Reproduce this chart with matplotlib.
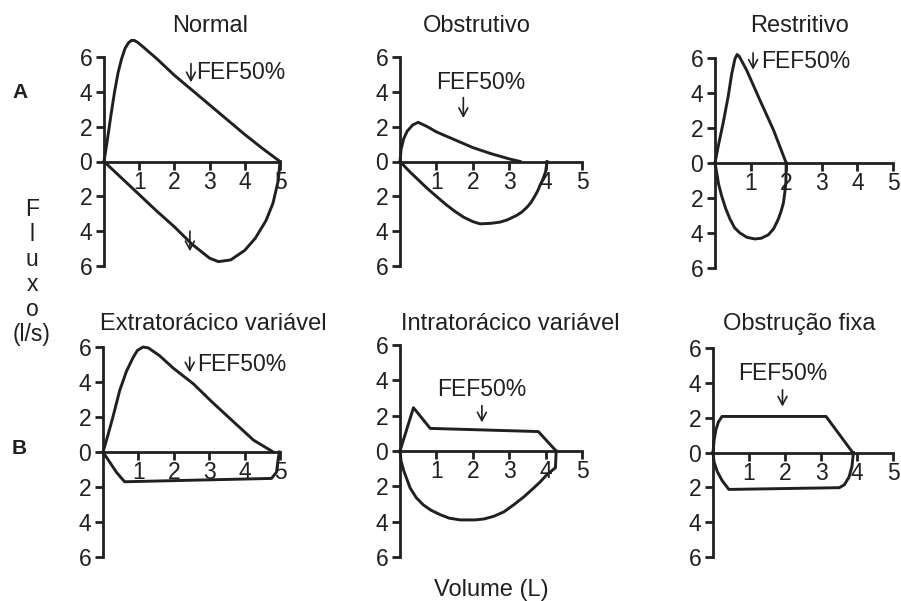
import matplotlib
matplotlib.use("Agg")
import matplotlib.pyplot as plt

plt.rcParams['font.family'] = ['Liberation Sans', 'DejaVu Sans']
INK = '#231f20'

# Flow-volume loops: expiratory flow (above axis) and inspiratory flow magnitude (drawn below)
titles = ['Normal', 'Obstrutivo', 'Restritivo',
          'Extratorácico variável', 'Intratorácico variável', 'Obstrução fixa']

exp_vol = [
    [0, 0.1, 0.2, 0.3, 0.4, 0.5, 0.6, 0.7, 0.78, 0.86, 0.95, 1.1, 1.5, 2, 2.5, 3, 3.5, 4, 4.5, 5],
    [0, 0.03, 0.1, 0.2, 0.35, 0.5, 0.75, 1, 1.5, 2, 2.5, 3, 3.3],
    [0, 0.09, 0.23, 0.37, 0.47, 0.56, 0.62, 0.68, 0.89, 1.26, 1.64, 2.0],
    [0, 0.14, 0.28, 0.47, 0.66, 0.85, 0.97, 1.13, 1.28, 1.6, 1.98, 2.55, 3.11, 3.68, 4.25, 4.81],
    [0, 0.37, 0.83, 3.8, 4.29],
    [0, 0.03, 0.08, 0.15, 0.25, 3.14, 3.88],
]
exp_flow = [
    [0, 1.3, 2.7, 4.0, 5.1, 5.9, 6.5, 6.83, 6.95, 6.95, 6.85, 6.6, 5.9, 4.95, 4.1, 3.25, 2.4, 1.55, 0.75, 0],
    [0, 0.7, 1.3, 1.75, 2.1, 2.25, 2.0, 1.7, 1.25, 0.8, 0.45, 0.15, 0],
    [0, 0.95, 2.3, 3.8, 5.1, 5.95, 6.2, 6.1, 5.3, 3.6, 1.9, 0],
    [0, 0.97, 2.0, 3.5, 4.6, 5.4, 5.8, 6.0, 5.95, 5.5, 4.8, 3.9, 2.8, 1.74, 0.68, 0],
    [0, 2.45, 1.28, 1.1, 0],
    [0, 0.7, 1.3, 1.75, 2.07, 2.07, 0],
]
insp_vol = [
    [0, 0.5, 1, 1.5, 2, 2.5, 3, 3.25, 3.6, 4, 4.3, 4.6, 4.8, 4.95, 5.0],
    [0, 0.25, 0.5, 0.75, 1, 1.25, 1.5, 1.75, 2, 2.2, 2.5, 2.75, 2.95, 3.2, 3.35, 3.5, 3.6, 3.7,
     3.78, 3.85, 3.93, 4.0, 4.04],
    [0, 0.05, 0.1, 0.19, 0.3, 0.42, 0.55, 0.7, 0.9, 1.12, 1.3, 1.5, 1.65, 1.78, 1.85, 1.92, 1.96,
     1.99, 2.0],
    [0, 0.19, 0.38, 0.61, 4.76, 4.9, 4.95, 4.98],
    [0, 0.03, 0.1, 0.28, 0.45, 0.64, 0.85, 1.1, 1.35, 1.65, 2.06, 2.3, 2.57, 2.85, 3.12, 3.4, 3.67,
     3.85, 4.04, 4.27, 4.29],
    [0, 0.03, 0.12, 0.25, 0.44, 3.51, 3.65, 3.78, 3.86, 3.9],
]
insp_flow = [
    [0, 0.95, 1.9, 2.85, 3.75, 4.75, 5.55, 5.75, 5.65, 5.1, 4.4, 3.4, 2.4, 1.1, 0],
    [0, 0.55, 1.05, 1.55, 2.0, 2.45, 2.85, 3.2, 3.45, 3.58, 3.55, 3.48, 3.35, 3.1, 2.9, 2.6, 2.35,
     2.0, 1.7, 1.35, 1.0, 0.58, 0],
    [0, 0.57, 1.2, 1.9, 2.6, 3.2, 3.7, 4.0, 4.25, 4.34, 4.3, 4.1, 3.75, 3.2, 2.8, 2.3, 1.7, 1.14, 0],
    [0, 0.58, 1.16, 1.7, 1.51, 1.16, 0.39, 0],
    [0, 0.57, 1.1, 2.1, 2.65, 3.05, 3.35, 3.6, 3.8, 3.9, 3.9, 3.85, 3.7, 3.45, 3.05, 2.6, 2.1,
     1.75, 1.33, 0.95, 0],
    [0, 0.55, 1.1, 1.6, 2.12, 2.02, 1.85, 1.4, 0.8, 0],
]

# FEF50% labels: (text, x, y, ha)
fef_labels = [
    [('FEF50%', 2.63, 5.1, 'left')],
    [('FEF50%', 2.22, 4.55, 'center')],
    [('FEF50%', 1.3, 5.8, 'left')],
    [('FEF50%', 2.65, 5.0, 'left')],
    [('FEF50%', 2.25, 3.5, 'center')],
    [('FEF50%', 1.93, 4.52, 'center')],
]
# arrows: (x, y_top, y_tip)
fef_arrows = [
    [(2.47, 5.62, 4.55), (2.44, -4.0, -5.15)],
    [(1.74, 3.67, 2.5)],
    [(1.07, 6.29, 5.33)],
    [(2.45, 5.42, 4.55)],
    [(2.25, 2.57, 1.62)],
    [(1.93, 3.6, 2.64)],
]

yticks = [6, 4, 2, 0, -2, -4, -6]
xticks = [1, 2, 3, 4, 5]

# panel boxes in pixels: left (x=0), right (x=5), top (y=6), bottom (y=-6)
boxes = [(104, 280, 57, 266), (400, 582, 57, 266), (715, 893, 58, 268),
         (103, 280, 347, 557), (400, 582, 345, 557), (713, 893, 348, 557)]
title_pos = [(210, 32), (477, 32), (800, 32), (213, 330), (510, 330), (799, 330)]

W, H = 901, 601
fig = plt.figure(figsize=(W / 100, H / 100), dpi=100)

for i in range(6):
    l, r, t, b = boxes[i]
    ax = fig.add_axes([l / W, 1 - b / H, (r - l) / W, (b - t) / H])
    ax.set_xlim(0, 5)
    ax.set_ylim(-6, 6)
    ax.patch.set_visible(False)
    ax.plot(exp_vol[i], exp_flow[i], color=INK, lw=2.1, clip_on=False, solid_joinstyle='round')
    ax.plot(insp_vol[i], [-v for v in insp_flow[i]], color=INK, lw=2.1, clip_on=False,
            solid_joinstyle='round')
    for s in ['top', 'right']:
        ax.spines[s].set_visible(False)
    ax.spines['bottom'].set_position(('data', 0))
    ax.spines['bottom'].set_bounds(0, 5)
    ax.spines['left'].set_bounds(-6, 6)
    for s in ['bottom', 'left']:
        ax.spines[s].set_linewidth(2.0)
        ax.spines[s].set_color(INK)
    ax.set_yticks(yticks)
    ax.set_yticklabels([str(abs(v)) for v in yticks])
    ax.set_xticks(xticks)
    ax.set_xticklabels([str(v) for v in xticks])
    ax.tick_params(axis='both', direction='out', length=6, width=2.0, color=INK,
                   labelsize=16.5, labelcolor=INK)
    ax.tick_params(axis='y', pad=2.5)
    ax.tick_params(axis='x', pad=0.5)
    for txt, x, y, ha in fef_labels[i]:
        ax.text(x, y, txt, ha=ha, va='center', fontsize=16.5, color=INK)
    for x, y0, y1 in fef_arrows[i]:
        ax.annotate('', xy=(x, y1), xytext=(x, y0), annotation_clip=False,
                    arrowprops=dict(arrowstyle='->,head_length=0.6,head_width=0.32',
                                    lw=1.2, color=INK, shrinkA=0, shrinkB=0))
    tx, ty = title_pos[i]
    fig.text(tx / W, 1 - ty / H, titles[i], ha='center', va='baseline', fontsize=17, color=INK)

fig.text(20 / W, 1 - 92 / H, 'A', ha='center', va='center', fontsize=15, fontweight='bold', color=INK)
fig.text(19 / W, 1 - 449 / H, 'B', ha='center', va='center', fontsize=15, fontweight='bold', color=INK)
fig.text(32 / W, 1 - 272 / H, 'F\nl\nu\nx\no\n(l/s)', ha='center', va='center',
         multialignment='center', linespacing=1.1, fontsize=16.5, color=INK)
fig.text(491 / W, 1 - 596 / H, 'Volume (L)', ha='center', va='baseline', fontsize=17, color=INK)

fig.savefig('out.png', dpi=100)
